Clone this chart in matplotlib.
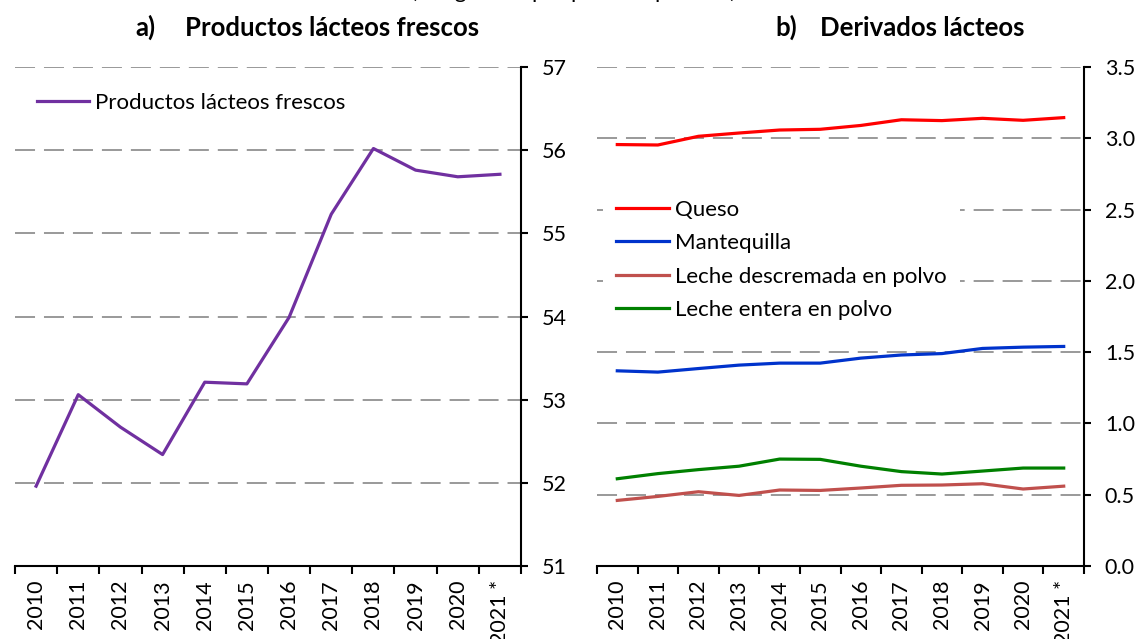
import matplotlib.pyplot as plt
from matplotlib.ticker import FormatStrFormatter

plt.rcParams['font.family'] = ['Lato', 'DejaVu Sans']

years = ["2010", "2011", "2012", "2013", "2014", "2015", "2016",
         "2017", "2018", "2019", "2020", "2021 *"]

frescos = [51.96, 53.06, 52.67, 52.34, 53.21, 53.19, 53.99,
           55.23, 56.02, 55.76, 55.68, 55.71]

queso = [2.956, 2.953, 3.014, 3.037, 3.058, 3.063, 3.090,
         3.130, 3.124, 3.140, 3.126, 3.145]
mantequilla = [1.369, 1.360, 1.385, 1.409, 1.423, 1.423, 1.458,
               1.480, 1.490, 1.526, 1.535, 1.540]
descremada = [0.460, 0.488, 0.521, 0.495, 0.533, 0.530, 0.547,
              0.566, 0.568, 0.577, 0.540, 0.560]
entera = [0.612, 0.648, 0.676, 0.700, 0.750, 0.748, 0.700,
          0.662, 0.645, 0.666, 0.687, 0.687]

W, H = 1138, 639
fig = plt.figure(figsize=(W / 100, H / 100), dpi=100)

ax1 = fig.add_axes([15 / W, 1 - 566 / H, 506 / W, 499 / H])
ax2 = fig.add_axes([597 / W, 1 - 566 / H, 487 / W, 499 / H])

x = list(range(len(years)))


def style_axes(ax):
    ax.set_xlim(-0.5, len(years) - 0.5)
    for s in ["top", "left"]:
        ax.spines[s].set_visible(False)
    for s in ["bottom", "right"]:
        ax.spines[s].set_linewidth(1.5)
        ax.spines[s].set_color("black")
    ax.yaxis.tick_right()
    ax.tick_params(axis="y", direction="out", length=5, width=1.5,
                   pad=10, labelsize=15.5)
    # ticks at category boundaries, labels in the middle
    ax.set_xticks([i - 0.5 for i in range(len(years) + 1)])
    ax.set_xticklabels([])
    ax.set_xticks(x, minor=True)
    ax.set_xticklabels(years, minor=True, rotation=90, fontsize=15.5)
    ax.tick_params(axis="x", which="major", direction="out", length=6, width=1.5)
    ax.tick_params(axis="x", which="minor", length=0, pad=10)
    ax.set_axisbelow(True)
    ax.grid(axis="y", color="#999999", linewidth=1.4, dashes=(10.3, 4.6))


# a) productos lacteos frescos
ax1.plot(x, frescos, color="#7030A0", lw=2.3, label="Productos lácteos frescos")
style_axes(ax1)
ax1.set_ylim(51, 57)
ax1.set_yticks([51, 52, 53, 54, 55, 56, 57])
ax1.legend(loc="upper left", bbox_to_anchor=(0.026, 0.966), borderaxespad=0,
           frameon=False, fontsize=16, handlelength=2.35, handletextpad=0.27)

# b) derivados lacteos
ax2.plot(x, queso, color="#FF0000", lw=2.3, label="Queso")
ax2.plot(x, mantequilla, color="#0033CC", lw=2.3, label="Mantequilla")
ax2.plot(x, descremada, color="#C0504D", lw=2.3, label="Leche descremada en polvo")
ax2.plot(x, entera, color="#008000", lw=2.3, label="Leche entera en polvo")
style_axes(ax2)
ax2.set_ylim(0, 3.5)
ax2.set_yticks([0, 0.5, 1.0, 1.5, 2.0, 2.5, 3.0, 3.5])
ax2.yaxis.set_major_formatter(FormatStrFormatter("%.1f"))
ax2.legend(loc="upper left", bbox_to_anchor=(0.0124, 0.7605), borderaxespad=0,
           frameon=True, fancybox=False, facecolor="white", edgecolor="none",
           framealpha=1, fontsize=16, handlelength=2.35, handletextpad=0.27,
           labelspacing=0.6, borderpad=0.6)

# titles (the unit line is cut off at the top edge, as in the source)
fig.text(0.504, 1 + 1.5 / H, "(Kilogramos por persona por año)", ha="center",
         va="baseline", fontsize=16)
fig.text(135 / W, 1 - 36 / H, "a)", ha="left", va="baseline",
         fontsize=18.5, fontweight="bold")
fig.text(185 / W, 1 - 36 / H, "Productos lácteos frescos", ha="left",
         va="baseline", fontsize=18.5, fontweight="bold")
fig.text(775 / W, 1 - 36 / H, "b)", ha="left", va="baseline",
         fontsize=18.5, fontweight="bold")
fig.text(820 / W, 1 - 36 / H, "Derivados lácteos", ha="left",
         va="baseline", fontsize=18.5, fontweight="bold")

fig.savefig("out.png", dpi=100)
